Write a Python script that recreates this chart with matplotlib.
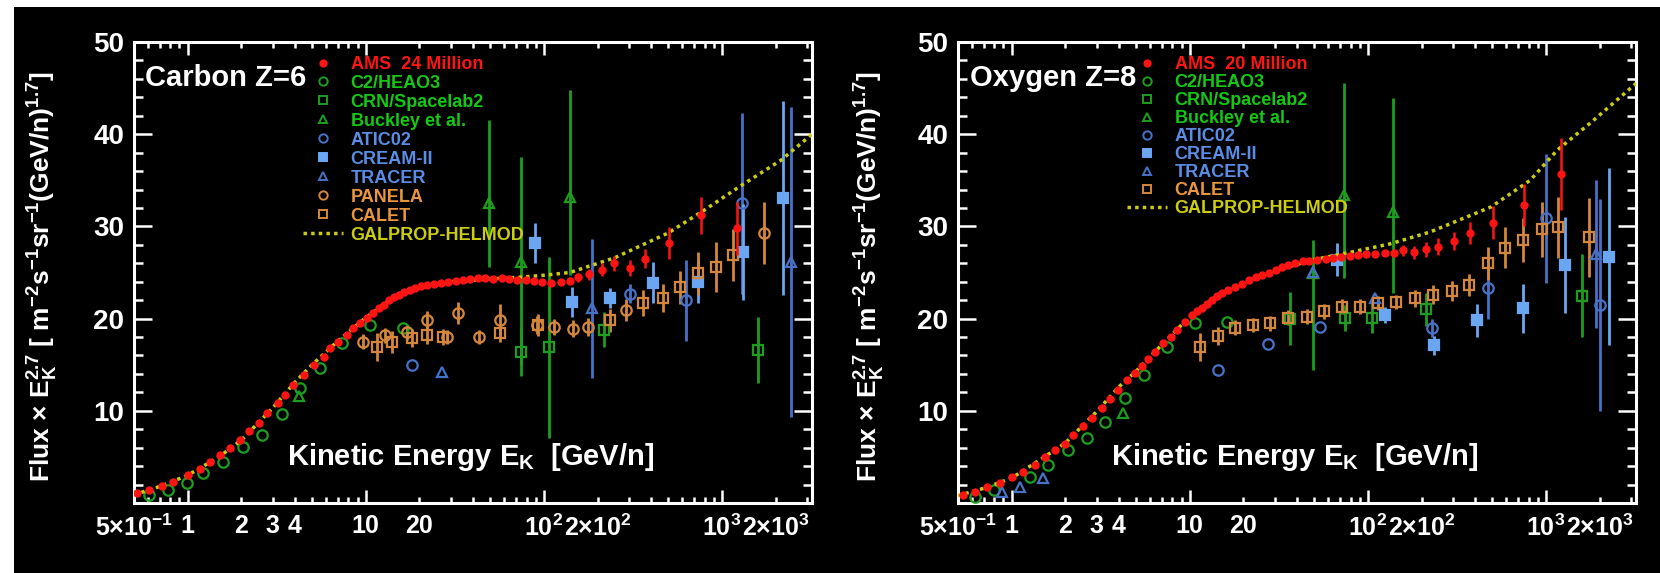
import matplotlib
matplotlib.use('Agg')
import matplotlib.pyplot as plt
from matplotlib.patches import Rectangle
from matplotlib.lines import Line2D
from matplotlib.ticker import MultipleLocator

plt.rcParams['font.family'] = ['Liberation Sans', 'DejaVu Sans']
plt.rcParams['font.weight'] = 'bold'
plt.rcParams['axes.labelweight'] = 'bold'
plt.rcParams['mathtext.fontset'] = 'custom'
plt.rcParams['mathtext.rm'] = 'Liberation Sans:bold'
plt.rcParams['mathtext.it'] = 'Liberation Sans:bold'
plt.rcParams['mathtext.bf'] = 'Liberation Sans:bold'
plt.rcParams['mathtext.default'] = 'bf'

# ---------------- Carbon data (Ek/n [GeV/n], Flux x Ek^2.7) ----------------
c_ams_x = [0.52, 0.61, 0.72, 0.83, 1.01, 1.18, 1.34, 1.52, 1.73, 1.97,
           2.2, 2.5, 2.8, 3.2, 3.5, 3.9, 4.5, 5.1, 5.8, 6.3,
           7.0, 7.8, 8.5, 9.3, 10.2, 11.0, 11.8, 12.6, 13.5, 14.4,
           15.4, 16.5, 17.7, 19.0, 20.5, 22.2, 24.2, 26.5, 29, 32,
           35, 38.5, 42.5, 47, 52, 58, 64, 71, 79, 88,
           98, 110, 124, 141, 156, 180, 213, 248, 304, 370,
           505, 760, 1220]
c_ams_y = [1.1, 1.4, 1.8, 2.3, 3.0, 3.7, 4.4, 5.2, 6.0, 6.8,
           7.8, 8.7, 9.8, 10.8, 11.7, 12.8, 13.9, 15.0, 15.8, 16.8,
           17.5, 18.2, 19.0, 19.5, 20.1, 20.6, 21.1, 21.5, 22.0, 22.3,
           22.6, 22.9, 23.1, 23.3, 23.5, 23.6, 23.8, 23.9, 24.0, 24.1,
           24.2, 24.3, 24.4, 24.4, 24.3, 24.4, 24.3, 24.2, 24.2, 24.1,
           24.0, 23.9, 24.0, 24.1, 24.5, 24.8, 25.3, 26.0, 25.5, 26.5,
           28.2, 31.2, 29.8]
c_ams_err = [0.05, 0.05, 0.05, 0.05, 0.05, 0.05, 0.05, 0.05, 0.05, 0.05,
             0.05, 0.05, 0.05, 0.05, 0.05, 0.05, 0.05, 0.05, 0.05, 0.05,
             0.1, 0.1, 0.1, 0.1, 0.1, 0.2, 0.2, 0.2, 0.2, 0.2,
             0.2, 0.2, 0.2, 0.2, 0.2, 0.2, 0.2, 0.2, 0.2, 0.2,
             0.3, 0.3, 0.3, 0.3, 0.3, 0.3, 0.3, 0.3, 0.3, 0.3,
             0.3, 0.3, 0.3, 0.4, 0.5, 0.6, 0.7, 0.8, 0.9, 1.0,
             1.7, 2.0, 2.9]

c_gal_x = [0.5, 0.7, 1, 1.5, 2, 3, 4, 5, 7, 10, 15, 20, 30, 50, 75, 100,
           140, 250, 500, 800, 1250, 2150, 3200]
c_gal_y = [0.9, 1.8, 3.0, 5.0, 6.8, 10.3, 13.1, 15.0, 17.6, 20.1, 22.6, 23.4,
           24.0, 24.3, 24.5, 24.7, 25.0, 26.6, 29.3, 31.8, 34.3, 37.2, 40.0]

c_heao_x = [0.61, 0.78, 0.99, 1.22, 1.58, 2.05, 2.6, 3.4, 4.3, 5.5, 7.4, 10.6, 16.2]
c_heao_y = [0.9, 1.4, 2.2, 3.3, 4.4, 6.1, 7.4, 9.7, 12.5, 14.6, 17.3, 19.3, 19.0]

c_crn_x = [74, 107, 217, 1585]
c_crn_y = [16.4, 16.9, 18.8, 16.6]
c_crn_err = [2.6, 9.8, 1.9, 3.6]

c_buck_x = [4.2, 49, 74, 140]
c_buck_y = [11.6, 32.5, 26.1, 33.2]
c_buck_lo = [0.0, 6.9, 11.1, 8.5]
c_buck_hi = [0.0, 9.0, 11.4, 11.6]

c_atic_x = [18.2, 304, 630, 1300]
c_atic_y = [15.0, 22.7, 22.0, 32.5]
c_atic_err = [0.0, 1.0, 4.4, 9.8]

c_cream_x = [89, 144, 235, 410, 735, 1320, 2200]
c_cream_y = [28.2, 21.8, 22.2, 23.9, 24.0, 27.2, 33.1]
c_cream_err = [2.2, 1.6, 1.1, 2.2, 2.3, 5.2, 10.5]

c_tracer_x = [26.8, 186, 2450]
c_tracer_y = [14.2, 21.1, 26.1]
c_tracer_err = [0.0, 7.5, 16.8]

c_panela_x = [9.7, 12.8, 17, 22.1, 28.6, 33.1, 43, 57, 92, 114, 146, 178, 290, 1720]
c_panela_y = [17.5, 18.2, 18.5, 19.8, 18.0, 20.6, 18.0, 19.8, 19.3, 19.1, 18.9,
              19.1, 20.9, 29.3]
c_panela_err = [0.8, 0.8, 0.8, 1.0, 0.8, 1.2, 0.8, 1.8, 1.0, 0.9, 0.9, 1.0, 1.2, 3.4]

c_calet_x = [11.6, 14.1, 18.2, 22, 27.3, 57, 93, 236, 360, 465, 580, 730, 925, 1160]
c_calet_y = [16.9, 17.5, 17.9, 18.2, 18.0, 18.4, 19.3, 19.8, 21.7, 22.2, 23.4,
             24.9, 25.6, 26.9]
c_calet_err = [1.5, 1.2, 1.0, 1.0, 0.9, 0.9, 1.2, 1.2, 1.4, 1.5, 1.8, 2.3, 2.7, 2.8]

# ---------------- Oxygen data ----------------
o_ams_x = [0.53, 0.62, 0.73, 0.86, 1.01, 1.16, 1.35, 1.54, 1.75, 1.99,
           2.21, 2.52, 2.82, 3.21, 3.58, 3.96, 4.45, 4.94, 5.41, 5.86,
           6.42, 7.1, 7.8, 8.5, 9.4, 10.3, 11.0, 11.7, 12.5, 13.4,
           14.3, 15.2, 16.5, 18.0, 19.6, 21.4, 23.4, 25.5, 28, 30.4,
           33, 35.8, 39, 43, 47, 52, 58, 64, 71, 79,
           88, 98, 110, 124, 141, 158, 182, 211, 249, 305,
           376, 502, 755, 1220]
o_ams_y = [0.9, 1.2, 1.7, 2.2, 2.8, 3.4, 4.1, 5.0, 5.7, 6.4,
           7.4, 8.3, 9.2, 10.3, 11.3, 12.3, 13.3, 14.1, 14.9, 15.6,
           16.4, 17.4, 18.0, 18.8, 19.6, 20.4, 20.8, 21.1, 21.6, 22.0,
           22.4, 22.8, 23.1, 23.4, 23.8, 24.2, 24.5, 24.7, 25.0, 25.3,
           25.6, 25.8, 26.0, 26.2, 26.3, 26.4, 26.5, 26.6, 26.7, 26.8,
           26.9, 27.0, 27.0, 27.1, 27.1, 27.4, 27.2, 27.5, 27.8, 28.4,
           29.3, 30.4, 32.3, 35.7]
o_ams_err = [0.05, 0.05, 0.05, 0.05, 0.05, 0.05, 0.05, 0.05, 0.05, 0.05,
             0.05, 0.05, 0.05, 0.05, 0.05, 0.05, 0.05, 0.05, 0.05, 0.05,
             0.1, 0.1, 0.1, 0.1, 0.1, 0.2, 0.2, 0.2, 0.2, 0.2,
             0.2, 0.2, 0.2, 0.2, 0.2, 0.2, 0.2, 0.2, 0.2, 0.2,
             0.3, 0.3, 0.3, 0.3, 0.3, 0.3, 0.3, 0.3, 0.3, 0.3,
             0.3, 0.3, 0.3, 0.3, 0.4, 0.6, 0.7, 0.8, 0.9, 1.0,
             1.2, 1.8, 2.3, 3.9]

o_gal_x = [0.5, 0.7, 1, 1.5, 2, 3, 4, 5, 7, 10, 15, 20, 30, 50, 80, 133, 224,
           490, 815, 1160, 1770, 3200]
o_gal_y = [0.8, 1.6, 2.7, 4.9, 6.5, 9.9, 12.6, 14.3, 17.2, 20.2, 22.8, 23.9,
           25.2, 26.4, 27.2, 28.1, 29.4, 32.1, 35.0, 38.3, 41.2, 45.5]

o_heao_x = [0.62, 0.80, 1.27, 1.60, 2.07, 2.65, 3.34, 4.32, 5.5, 7.5, 10.7, 16.2]
o_heao_y = [0.7, 1.4, 2.8, 4.1, 5.7, 7.0, 8.8, 11.4, 13.9, 16.9, 19.5, 19.6]

o_crn_x = [36.5, 74, 106, 211, 1600]
o_crn_y = [20.0, 20.1, 20.1, 21.0, 22.5]
o_crn_err = [2.9, 1.4, 1.7, 1.8, 4.5]

o_buck_x = [4.2, 49, 73, 139]
o_buck_y = [9.8, 25.0, 33.4, 31.6]
o_buck_lo = [0.0, 10.6, 9.0, 8.8]
o_buck_hi = [0.0, 3.5, 12.1, 12.3]

o_atic_x = [14.4, 27.6, 54, 229, 470, 1000, 2020]
o_atic_y = [14.4, 17.2, 19.1, 19.0, 23.3, 30.9, 21.5]
o_atic_err = [0.0, 0.0, 0.0, 1.0, 3.3, 7.0, 11.5]

o_cream_x = [67, 125, 235, 410, 740, 1280, 2250]
o_cream_y = [26.4, 20.4, 17.1, 19.8, 21.1, 25.8, 26.7]
o_cream_err = [1.8, 0.9, 1.0, 1.8, 2.7, 5.2, 9.6]

o_tracer_x = [0.88, 1.11, 1.50, 49, 110, 1900]
o_tracer_y = [1.2, 1.7, 2.7, 25.1, 22.2, 27.0]
o_tracer_err = [0.0, 0.0, 0.0, 0.0, 0.0, 8.0]

o_calet_x = [11.4, 14.4, 18, 22.7, 28.2, 35.6, 45.5, 57, 72, 90, 114, 144, 185,
             233, 295, 370, 470, 590, 745, 950, 1170, 1750]
o_calet_y = [16.9, 18.1, 19.0, 19.3, 19.5, 20.1, 20.2, 20.8, 21.3, 21.3, 21.7,
             21.8, 22.2, 22.6, 23.0, 23.6, 26.0, 27.7, 28.5, 29.7, 29.9, 28.8]
o_calet_err = [1.5, 1.0, 0.8, 0.8, 0.8, 0.8, 0.8, 0.8, 0.8, 0.8, 0.8, 0.8, 0.9,
               1.0, 1.1, 1.2, 1.8, 2.2, 2.4, 3.0, 3.3, 4.3]

# tick labels
xtick_major = [1, 10, 100, 1000]
xtick_major_labels = ['1', '10', '10$^2$', '10$^3$']
xtick_named = {0.5: '5×10$^{-1}$', 2: '2', 3: '3', 4: '4', 20: '20',
               200: '2×10$^2$', 2000: '2×10$^3$'}
ytick_major = [10, 20, 30, 40, 50]

RED = '#ff1414'
GREEN = '#1e9e1e'
GREEN_T = '#14c814'
BLUE = '#4672c8'
LBLUE = '#6aa6f2'
BLUE_T = '#5a8ee6'
ORANGE = '#d4873a'
ORANGE_T = '#ea963c'
YELLOW = '#cccc10'


def errpts(ax, x, y, err, marker, color, filled=False, ms=7.5, z=3):
    ax.errorbar(x, y, yerr=err, fmt=marker, color=color, ms=ms, mew=1.6,
                mfc=color if filled else 'none', mec=color,
                elinewidth=2.0, capsize=0, zorder=z)


def setup_axes(ax, ylabel_x):
    ax.set_facecolor('black')
    ax.set_xscale('log')
    ax.set_xlim(0.5, 3200)
    ax.set_ylim(0, 50)
    for s in ax.spines.values():
        s.set_color('white')
        s.set_linewidth(2.2)
    ax.set_yticks(ytick_major)
    ax.yaxis.set_minor_locator(MultipleLocator(2))
    ax.set_xticks(xtick_major, xtick_major_labels)
    minor = [m * 10.0 ** e for e in range(-1, 4) for m in range(2, 10)]
    minor = [v for v in minor if 0.49 < v < 3300 and v not in (1, 10, 100, 1000)]
    minor_labels = [xtick_named.get(round(v, 6), '') for v in minor]
    ax.set_xticks(minor, minor_labels, minor=True)
    ax.tick_params(axis='both', which='both', direction='in', colors='white',
                   top=True, right=True, width=1.8)
    ax.tick_params(axis='y', which='major', length=13, pad=7, labelsize=20)
    ax.tick_params(axis='y', which='minor', length=6.5)
    ax.tick_params(axis='x', which='major', length=9.5, pad=8, labelsize=18)
    ax.tick_params(axis='x', which='minor', length=4.5, pad=8, labelsize=18)
    ax.set_ylabel(r'Flux $\times$ E$_K^{2.7}$ [ m$^{-2}$s$^{-1}$sr$^{-1}$(GeV/n)$^{1.7}$]',
                  color='white', fontsize=19, fontweight='bold')
    ax.yaxis.set_label_coords(ylabel_x, 0.49)
    ax.text(0.496, 0.10, 'Kinetic Energy E$_K$  [GeV/n]', transform=ax.transAxes,
            ha='center', va='center', color='white', fontsize=21)


def add_legend(ax, entries, spacing):
    handles, labels, tcolors = [], [], []
    for lab, tc, mk, col, filled, ls in entries:
        if ls:
            h = Line2D([], [], color=col, lw=2.5, linestyle=(0, (1.0, 1.2)))
        else:
            h = Line2D([], [], ls='none', marker=mk, color=col,
                       ms=4.5 if col == RED else 6,
                       mew=1.4, mfc=col if filled else 'none', mec=col)
        handles.append(h)
        labels.append(lab)
        tcolors.append(tc)
    leg = ax.legend(handles, labels, loc='upper left', bbox_to_anchor=(0.249, 0.970),
                    frameon=False, fontsize=13, handlelength=2.2, handletextpad=0.45,
                    labelspacing=spacing, borderpad=0, borderaxespad=0)
    for t, c in zip(leg.get_texts(), tcolors):
        t.set_color(c)


fig = plt.figure(figsize=(16.6, 5.73), dpi=100)
fig.patch.set_facecolor('white')
fig.add_artist(Rectangle((14 / 1660, 0), 1, 566 / 573, transform=fig.transFigure,
                         facecolor='black', edgecolor='none', zorder=-10))

axC = fig.add_axes([134 / 1660, 70 / 573, 678 / 1660, 461 / 573])
axO = fig.add_axes([958 / 1660, 70 / 573, 678 / 1660, 461 / 573])

# ---- Carbon panel ----
setup_axes(axC, -0.109)
errpts(axC, c_heao_x, c_heao_y, None, 'o', GREEN)
errpts(axC, c_crn_x, c_crn_y, c_crn_err, 's', GREEN)
errpts(axC, c_buck_x, c_buck_y, [c_buck_lo, c_buck_hi], '^', GREEN)
errpts(axC, c_atic_x, c_atic_y, c_atic_err, 'o', BLUE)
errpts(axC, c_cream_x, c_cream_y, c_cream_err, 's', LBLUE, filled=True)
errpts(axC, c_tracer_x, c_tracer_y, c_tracer_err, '^', BLUE)
errpts(axC, c_panela_x, c_panela_y, c_panela_err, 'o', ORANGE)
errpts(axC, c_calet_x, c_calet_y, c_calet_err, 's', ORANGE)
axC.plot(c_gal_x, c_gal_y, color=YELLOW, lw=2.5, linestyle=(0, (1.0, 1.2)), zorder=4)
axC.errorbar(c_ams_x, c_ams_y, yerr=c_ams_err, fmt='o', color=RED, ms=5,
             elinewidth=1.8, capsize=0, zorder=5)
axC.text(0.016, 0.922, 'Carbon Z=6', transform=axC.transAxes, color='white',
         fontsize=21, ha='left', va='center')
add_legend(axC, [
    ('AMS  24 Million', RED, 'o', RED, True, False),
    ('C2/HEAO3', GREEN_T, 'o', GREEN, False, False),
    ('CRN/Spacelab2', GREEN_T, 's', GREEN, False, False),
    ('Buckley et al.', GREEN_T, '^', GREEN, False, False),
    ('ATIC02', BLUE_T, 'o', BLUE, False, False),
    ('CREAM-II', BLUE_T, 's', LBLUE, True, False),
    ('TRACER', BLUE_T, '^', BLUE, False, False),
    ('PANELA', ORANGE_T, 'o', ORANGE, False, False),
    ('CALET', ORANGE_T, 's', ORANGE, False, False),
    ('GALPROP-HELMOD', YELLOW, None, YELLOW, False, True),
], 0.11)

# ---- Oxygen panel ----
setup_axes(axO, -0.105)
errpts(axO, o_heao_x, o_heao_y, None, 'o', GREEN)
errpts(axO, o_crn_x, o_crn_y, o_crn_err, 's', GREEN)
errpts(axO, o_buck_x, o_buck_y, [o_buck_lo, o_buck_hi], '^', GREEN)
errpts(axO, o_atic_x, o_atic_y, o_atic_err, 'o', BLUE)
errpts(axO, o_cream_x, o_cream_y, o_cream_err, 's', LBLUE, filled=True)
errpts(axO, o_tracer_x, o_tracer_y, o_tracer_err, '^', BLUE)
errpts(axO, o_calet_x, o_calet_y, o_calet_err, 's', ORANGE)
axO.plot(o_gal_x, o_gal_y, color=YELLOW, lw=2.5, linestyle=(0, (1.0, 1.2)), zorder=4)
axO.errorbar(o_ams_x, o_ams_y, yerr=o_ams_err, fmt='o', color=RED, ms=5,
             elinewidth=1.8, capsize=0, zorder=5)
axO.text(0.018, 0.922, 'Oxygen Z=8', transform=axO.transAxes, color='white',
         fontsize=21, ha='left', va='center')
add_legend(axO, [
    ('AMS  20 Million', RED, 'o', RED, True, False),
    ('C2/HEAO3', GREEN_T, 'o', GREEN, False, False),
    ('CRN/Spacelab2', GREEN_T, 's', GREEN, False, False),
    ('Buckley et al.', GREEN_T, '^', GREEN, False, False),
    ('ATIC02', BLUE_T, 'o', BLUE, False, False),
    ('CREAM-II', BLUE_T, 's', LBLUE, True, False),
    ('TRACER', BLUE_T, '^', BLUE, False, False),
    ('CALET', ORANGE_T, 's', ORANGE, False, False),
    ('GALPROP-HELMOD', YELLOW, None, YELLOW, False, True),
], 0.06)

fig.savefig('out.png', dpi=100, facecolor=fig.get_facecolor())
